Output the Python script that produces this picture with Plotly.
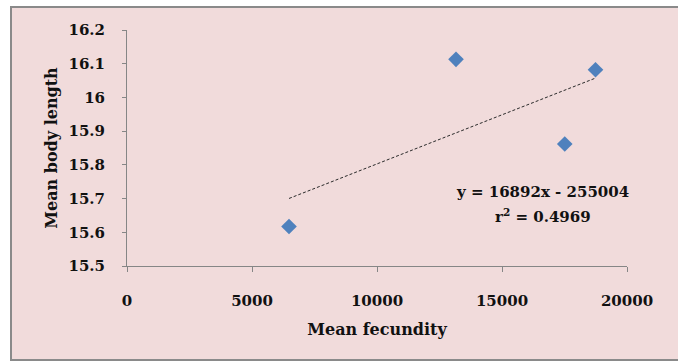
import numpy as np
import plotly.graph_objects as go

# Data
fecundity = [6480, 13160, 17510, 18740]
body_length = [15.617, 16.113, 15.862, 16.082]
x_ticks = [0, 5000, 10000, 15000, 20000]
y_ticks = [15.5, 15.6, 15.7, 15.8, 15.9, 16.0, 16.1, 16.2]
y_tick_text = ["15.5", "15.6", "15.7", "15.8", "15.9", "16", "16.1", "16.2"]
eq_text = "y = 16892x - 255004"
r2_text = "r<sup>2</sup> = 0.4969"

# linear trendline (least squares) over the data span
slope, intercept = np.polyfit(fecundity, body_length, 1)
tx = [min(fecundity), max(fecundity)]
ty = [slope * v + intercept for v in tx]

FONT = "DejaVu Serif"
PINK = "#f1dbdb"
AXIS = "#868686"

fig = go.Figure()
fig.add_trace(go.Scatter(x=tx, y=ty, mode="lines",
                         line=dict(color="#2a2a2a", width=1, dash="3px,2px"),
                         hoverinfo="skip", showlegend=False))
fig.add_trace(go.Scatter(x=fecundity, y=body_length, mode="markers",
                         marker=dict(symbol="diamond", size=12, color="#4f81bd",
                                     line=dict(width=0)),
                         showlegend=False))

fig.update_layout(
    width=678, height=362,
    margin=dict(l=127, r=51, t=30, b=96),
    paper_bgcolor="white",
    plot_bgcolor=PINK,
    font=dict(family=FONT, color="#111111"),
    shapes=[dict(type="rect", xref="paper", yref="paper",
                 x0=-0.232, x1=1.12, y0=-0.398, y1=1.0975,
                 fillcolor=PINK, line=dict(color="#8a8a8a", width=2),
                 layer="below")],
    annotations=[
        dict(text="<b>" + eq_text + "</b>", xref="paper", yref="paper",
             x=0.83, y=0.3136, showarrow=False, xanchor="center", yanchor="middle",
             font=dict(family=FONT, size=15, color="#111111")),
        dict(text="<b>" + r2_text + "</b>", xref="paper", yref="paper",
             x=0.832, y=0.212, showarrow=False, xanchor="center", yanchor="middle",
             font=dict(family=FONT, size=15, color="#111111")),
    ],
)

fig.update_xaxes(
    range=[0, 20000], tickvals=x_ticks, ticktext=[f"<b>{v}</b>" for v in x_ticks],
    showgrid=False, zeroline=False, showline=True, linecolor=AXIS, linewidth=1,
    ticks="outside", ticklen=5, tickcolor=AXIS, ticklabelstandoff=16,
    tickfont=dict(family=FONT, size=15, color="#111111"),
    title=dict(text="<b>Mean fecundity</b>", standoff=14,
               font=dict(family=FONT, size=16, color="#111111")),
)
fig.update_yaxes(
    range=[15.5, 16.2], tickvals=y_ticks, ticktext=[f"<b>{t}</b>" for t in y_tick_text],
    showgrid=False, zeroline=False, showline=True, linecolor=AXIS, linewidth=1,
    ticks="outside", ticklen=4, tickcolor=AXIS, ticklabelstandoff=14,
    tickfont=dict(family=FONT, size=15, color="#111111"),
    title=dict(text="<b>Mean body length</b>", standoff=6,
               font=dict(family=FONT, size=16, color="#111111")),
)

fig.write_html("out.html")
